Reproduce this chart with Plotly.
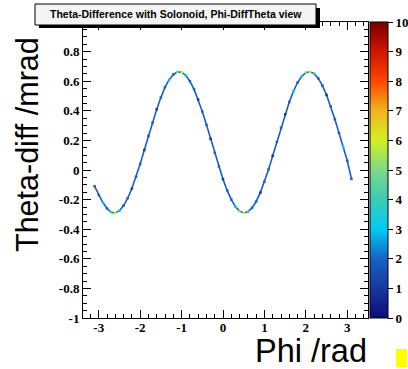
import plotly.graph_objects as go

# ---- data ----
phi = [-3.1, -3.0, -2.9, -2.8, -2.7, -2.6, -2.5, -2.4, -2.3, -2.2, -2.1,
       -2.0, -1.9, -1.8, -1.7, -1.6, -1.5, -1.4, -1.3, -1.2, -1.1,
       -1.0, -0.9, -0.8, -0.7, -0.6, -0.5, -0.4, -0.3, -0.2, -0.1,
       0.0, 0.1, 0.2, 0.3, 0.4, 0.5, 0.6, 0.7, 0.8, 0.9,
       1.0, 1.1, 1.2, 1.3, 1.4, 1.5, 1.6, 1.7, 1.8, 1.9,
       2.0, 2.1, 2.2, 2.3, 2.4, 2.5, 2.6, 2.7, 2.8, 2.9,
       3.0, 3.1]
theta_diff = [-0.11, -0.17, -0.22, -0.26, -0.285, -0.29, -0.275, -0.24, -0.19, -0.125, -0.046,
              0.04, 0.135, 0.23, 0.32, 0.41, 0.49, 0.56, 0.61, 0.645, 0.663,
              0.661, 0.64, 0.60, 0.546, 0.476, 0.395, 0.305, 0.211, 0.116, 0.024,
              -0.062, -0.138, -0.20, -0.248, -0.278, -0.29, -0.282, -0.256, -0.213, -0.153,
              -0.079, 0.004, 0.096, 0.19, 0.285, 0.376, 0.459, 0.532, 0.591, 0.633,
              0.658, 0.664, 0.651, 0.619, 0.57, 0.507, 0.43, 0.343, 0.25, 0.156,
              0.062, -0.06]
counts = [2, 2, 3, 2, 4, 6, 3, 2, 2, 1, 2,
          2, 1, 2, 2, 1, 2, 2, 3, 2, 5,
          6, 3, 2, 2, 1, 2, 2, 1, 2, 2,
          1, 2, 2, 3, 5, 6, 4, 2, 2, 1,
          2, 2, 1, 2, 2, 1, 2, 3, 2, 3,
          5, 6, 4, 2, 2, 1, 2, 2, 2, 3,
          2, 2]

x_ticks = [-3, -2, -1, 0, 1, 2, 3]
x_ticktext = ["-3", "-2", "-1", "0", "1", "2", "3"]
y_ticks = [-1, -0.8, -0.6, -0.4, -0.2, 0, 0.2, 0.4, 0.6, 0.8]
y_ticktext = ["-1", "-0.8", "-0.6", "-0.4", "-0.2", "0", "0.2", "0.4", "0.6", "0.8"]
z_ticks = [0, 1, 2, 3, 4, 5, 6, 7, 8, 9, 10]

title_text = "Theta-Difference with Solonoid, Phi-DiffTheta view"
x_title = "Phi /rad"
y_title = "Theta-diff /mrad"

# ---- layout geometry (pixels) ----
W, H = 408, 369
L, R, T, B = 83, 368, 22, 318


def px(xp):
    return (xp - L) / (R - L)


def py(yp):
    return (B - yp) / (B - T)


palette = [
    [0.0, "#0c0c78"], [0.1, "#16389e"], [0.2, "#1862c6"], [0.3, "#00ccf4"],
    [0.4, "#3ccbb4"], [0.5, "#7cd88a"], [0.6, "#d4f020"], [0.7, "#f2b41e"],
    [0.8, "#ff4600"], [0.9, "#d01400"], [1.0, "#780000"],
]

tickfont = dict(family="Liberation Serif", size=13, color="black", weight="bold")

fig = go.Figure()
fig.add_trace(go.Scatter(
    x=phi, y=theta_diff, mode="lines",
    line=dict(color="#1c5cc2", width=1.6),
    showlegend=False, hoverinfo="skip",
))
fig.add_trace(go.Scatter(
    x=phi, y=theta_diff, mode="markers",
    marker=dict(
        size=2.5, symbol="square", color=counts, colorscale=palette,
        cmin=0, cmax=10, line=dict(width=0),
        colorbar=dict(
            x=px(370), xanchor="left", y=0.5, yanchor="middle",
            len=1, lenmode="fraction", thickness=18, thicknessmode="pixels",
            ypad=0, xpad=0, outlinecolor="black", outlinewidth=1,
            tickvals=z_ticks, ticks="outside", ticklen=5, tickcolor="black",
            tickfont=tickfont,
        ),
    ),
    showlegend=False,
))

axis_common = dict(
    showline=True, linecolor="black", linewidth=1, mirror="allticks",
    ticks="inside", ticklen=8, tickcolor="black", showgrid=False,
    zeroline=False, tickfont=tickfont, automargin=False,
)

fig.update_xaxes(
    range=[-3.38, 3.5], tickvals=x_ticks, ticktext=x_ticktext,
    minor=dict(ticks="inside", ticklen=4, dtick=0.2, tick0=0, tickcolor="black"),
    ticklabelstandoff=-3,
    **axis_common,
)
fig.update_yaxes(
    range=[-1, 1], tickvals=y_ticks, ticktext=y_ticktext,
    minor=dict(ticks="inside", ticklen=4, dtick=0.05, tick0=0, tickcolor="black"),
    **axis_common,
)

shapes = [
    # title box shadow and box
    dict(type="rect", xref="paper", yref="paper", x0=px(39), x1=px(320), y0=py(28), y1=py(8),
         fillcolor="black", line=dict(width=0), layer="above"),
    dict(type="rect", xref="paper", yref="paper", x0=px(35), x1=px(316), y0=py(25), y1=py(4),
         fillcolor="#f4f4f4", line=dict(color="black", width=1), layer="above"),
    # small yellow marker at bottom right
    dict(type="rect", xref="paper", yref="paper", x0=px(396), x1=px(407), y0=py(367), y1=py(349),
         fillcolor="#ffff00", line=dict(width=0), layer="above"),
]

annotations = [
    dict(text=title_text, xref="paper", yref="paper", x=px(175.5), y=py(14.5),
         xanchor="center", yanchor="middle", showarrow=False,
         font=dict(family="Liberation Sans", size=10.5, color="black", weight="bold")),
    dict(text=x_title, xref="paper", yref="paper", x=px(369), y=py(351),
         xanchor="right", yanchor="middle", showarrow=False,
         font=dict(family="Liberation Sans", size=32.5, color="black")),
    dict(text=y_title, xref="paper", yref="paper", x=px(27), y=py(145),
         xanchor="center", yanchor="middle", showarrow=False, textangle=-90,
         font=dict(family="Liberation Sans", size=30.5, color="black")),
]

fig.update_layout(
    width=W, height=H, autosize=False,
    margin=dict(l=L, r=W - R, t=T, b=H - B, pad=0, autoexpand=False),
    paper_bgcolor="white", plot_bgcolor="white",
    shapes=shapes, annotations=annotations,
)

fig.write_html(
    "out.html",
    config={"displayModeBar": False},
    post_script="document.body.style.margin='0';document.body.style.padding='0';",
)
